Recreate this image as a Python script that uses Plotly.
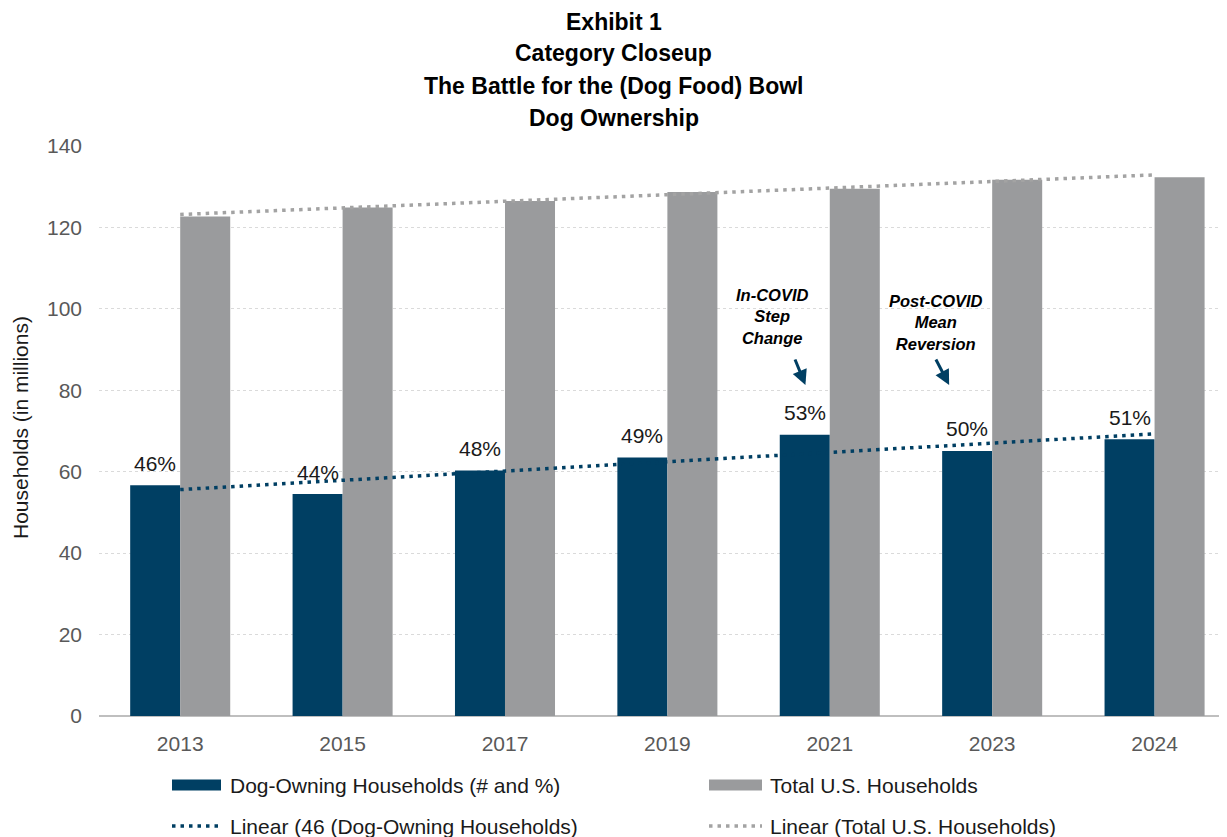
import numpy as np
import plotly.graph_objects as go

# ---- data ----
years = ["2013", "2015", "2017", "2019", "2021", "2023", "2024"]
dog_households = [56.7, 54.5, 60.3, 63.5, 69.1, 65.1, 68.0]
total_households = [122.7, 124.9, 126.5, 128.7, 129.5, 131.7, 132.3]
dog_pct_labels = ["46%", "44%", "48%", "49%", "53%", "50%", "51%"]
title_lines = ["Exhibit 1", "Category Closeup", "The Battle for the (Dog Food) Bowl", "Dog Ownership"]
legend_labels = ["Dog-Owning Households (# and %)", "Total U.S. Households",
                 "Linear (46 (Dog-Owning Households)", "Linear (Total U.S. Households)"]

NAVY = "#003f63"
GRAY = "#9a9b9d"
TREND_GRAY = "#a3a3a3"
FONT = "Liberation Sans, Arial, sans-serif"

# linear trendlines (least squares over category index, as in Excel)
idx = np.arange(len(years))
dog_trend = np.polyval(np.polyfit(idx, dog_households, 1), idx)
tot_trend = np.polyval(np.polyfit(idx, total_households, 1), idx)

# page has an 8px body margin -> figure is 8px smaller, screen coords shifted by 8
OFF = 8
W, H = 1227 - OFF, 837 - OFF
L, R, T = 99 - OFF, 0, 146 - OFF
B = H - (716 - OFF)
PW, PH = W - L - R, H - T - B


def px_x(sx):
    return (sx - OFF - L) / PW


def px_y(sy):
    return (H - B - (sy - OFF)) / PH


def val_y(sy):
    return (716 - sy) / 570 * 140


fig = go.Figure()
fig.add_trace(go.Bar(x=years, y=dog_households, name=legend_labels[0],
                     marker=dict(color=NAVY, line=dict(width=0)), showlegend=False))
fig.add_trace(go.Bar(x=years, y=total_households, name=legend_labels[1],
                     marker=dict(color=GRAY, line=dict(width=0)), showlegend=False))
fig.add_trace(go.Scatter(x=years, y=dog_trend, mode="lines", name=legend_labels[2],
                         line=dict(color=NAVY, width=3.5, dash="3.5px,5px"), showlegend=False))
fig.add_trace(go.Scatter(x=years, y=tot_trend, mode="lines", name=legend_labels[3],
                         line=dict(color=TREND_GRAY, width=3.5, dash="3.5px,5px"), showlegend=False))

annotations = []
# data labels above dog bars
for i, (v, lab) in enumerate(zip(dog_households, dog_pct_labels)):
    annotations.append(dict(x=i, y=v, xref="x", yref="y", text=lab, showarrow=False,
                            xshift=-25, yshift=22, xanchor="center", yanchor="middle",
                            font=dict(family=FONT, size=21, color="#1a1a1a")))

# title
for line, sy in zip(title_lines, [22, 53, 86, 118]):
    annotations.append(dict(x=px_x(613.5), y=px_y(sy), xref="paper", yref="paper",
                            text="<b>%s</b>" % line, showarrow=False,
                            xanchor="center", yanchor="middle",
                            font=dict(family=FONT, size=23, color="#000000")))

# y-axis title
annotations.append(dict(x=px_x(20), y=px_y(428), xref="paper", yref="paper",
                        text="Households (in millions)", textangle=-90, showarrow=False,
                        xanchor="center", yanchor="middle",
                        font=dict(family=FONT, size=21, color="#1a1a1a")))

# callouts
annotations.append(dict(x=3.645, y=val_y(316), xref="x", yref="y",
                        text="<b><i>In-COVID<br>Step<br>Change</i></b>", showarrow=False,
                        xanchor="center", yanchor="middle",
                        font=dict(family=FONT, size=16.5, color="#000000")))
annotations.append(dict(x=4.655, y=val_y(322), xref="x", yref="y",
                        text="<b><i>Post-COVID<br>Mean<br>Reversion</i></b>", showarrow=False,
                        xanchor="center", yanchor="middle",
                        font=dict(family=FONT, size=16.5, color="#000000")))
annotations.append(dict(x=3.85, y=val_y(385), xref="x", yref="y",
                        ax=-11, ay=-27, showarrow=True, arrowhead=2, arrowsize=1,
                        arrowwidth=3, arrowcolor=NAVY, text=""))
annotations.append(dict(x=4.735, y=val_y(385), xref="x", yref="y",
                        ax=-14, ay=-27, showarrow=True, arrowhead=2, arrowsize=1,
                        arrowwidth=3, arrowcolor=NAVY, text=""))

# manual legend (screen pixel positions)
shapes = []
leg_rows = [785, 826]
leg_cols = [(172, 221, 228), (709, 762, 768)]
leg_colors = [NAVY, GRAY, NAVY, TREND_GRAY]
for i, lab in enumerate(legend_labels):
    row, col = divmod(i, 2)
    x0, x1, tx = leg_cols[col]
    sy = leg_rows[row]
    if row == 0:
        shapes.append(dict(type="rect", xref="paper", yref="paper",
                           x0=px_x(x0), x1=px_x(x1), y0=px_y(sy - 5.5), y1=px_y(sy + 5.5),
                           fillcolor=leg_colors[i], line=dict(width=0)))
    else:
        shapes.append(dict(type="line", xref="paper", yref="paper",
                           x0=px_x(x0), x1=px_x(x1), y0=px_y(sy), y1=px_y(sy),
                           line=dict(color=leg_colors[i], width=3.5, dash="3.5px,5px")))
    annotations.append(dict(x=px_x(tx), y=px_y(sy), xref="paper", yref="paper",
                            text=lab, showarrow=False, xanchor="left", yanchor="middle",
                            font=dict(family=FONT, size=21, color="#1a1a1a")))

fig.update_layout(
    width=W, height=H,
    margin=dict(l=L, r=R, t=T, b=B, autoexpand=False),
    paper_bgcolor="white", plot_bgcolor="white",
    barmode="group", bargap=0.384, bargroupgap=0,
    showlegend=False,
    annotations=annotations, shapes=shapes,
    xaxis=dict(type="category", range=[-0.5, 6.446], showgrid=False, zeroline=False,
               showline=False, ticks="", ticklabelstandoff=13,
               tickfont=dict(family=FONT, size=21, color="#595959")),
    yaxis=dict(range=[0, 140], dtick=20, showgrid=True, gridcolor="#dadada", griddash="dot",
               gridwidth=1, zeroline=True, zerolinecolor="#bfbfbf", zerolinewidth=1.5,
               showline=False, ticks="", ticklabelstandoff=16,
               tickfont=dict(family=FONT, size=21, color="#595959")),
)

fig.write_html("out.html")
